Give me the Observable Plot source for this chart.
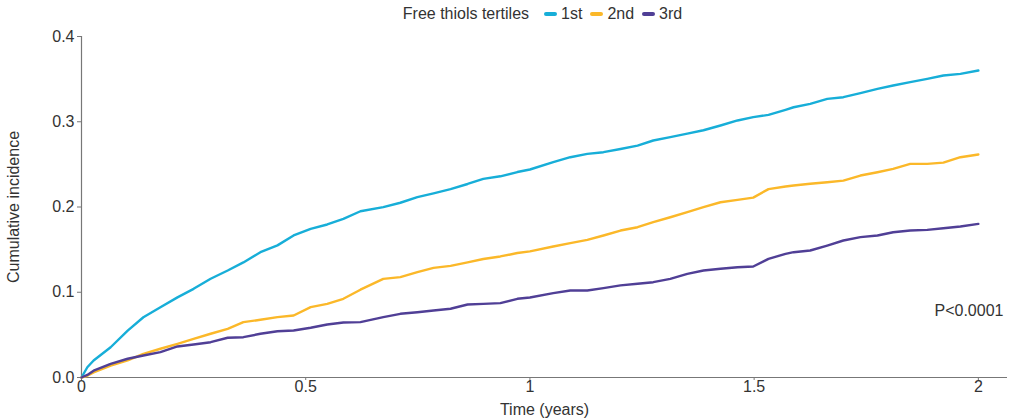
<!DOCTYPE html>
<html><head><meta charset="utf-8">
<script src="https://cdn.jsdelivr.net/npm/d3@7"></script>
<script src="https://cdn.jsdelivr.net/npm/@observablehq/plot@0.6"></script>
<style>
body{margin:0;background:#fff;font-family:"Liberation Sans",Arial,sans-serif;color:#333;}
#legend{height:28px;box-sizing:border-box;padding-left:78px;padding-right:4px;display:flex;justify-content:center;align-items:center;font-size:16px;line-height:28px;}
#legend .item{display:flex;align-items:center;margin-left:8px;}
#legend .sw{width:13px;height:4px;border-radius:3px;margin-right:4px;}
#legend .title{margin-right:7px;}
</style></head>
<body><div id="legend"></div><div id="chart"></div>
<script>
const series = ["1st", "2nd", "3rd"];
const colors = ["#17aed8", "#fbb829", "#503f96"];
const legendTitle = "Free thiols tertiles";
const time = [0, 0.013, 0.027, 0.065, 0.103, 0.138, 0.176, 0.214, 0.25, 0.288, 0.326, 0.361, 0.399, 0.437, 0.473, 0.511, 0.548, 0.584, 0.622, 0.673, 0.711, 0.749, 0.785, 0.823, 0.861, 0.896, 0.934, 0.972, 1.0, 1.052, 1.09, 1.128, 1.164, 1.202, 1.24, 1.275, 1.313, 1.351, 1.387, 1.425, 1.463, 1.498, 1.532, 1.57, 1.588, 1.625, 1.663, 1.699, 1.737, 1.775, 1.81, 1.848, 1.886, 1.922, 1.96, 2.0];
const first = [0, 0.012, 0.02, 0.0355, 0.055, 0.0707, 0.0825, 0.094, 0.104, 0.1158, 0.1255, 0.135, 0.147, 0.155, 0.1666, 0.1744, 0.1795, 0.186, 0.195, 0.1998, 0.205, 0.2115, 0.216, 0.221, 0.227, 0.233, 0.236, 0.241, 0.244, 0.2526, 0.2584, 0.2623, 0.2643, 0.268, 0.272, 0.278, 0.282, 0.286, 0.29, 0.2956, 0.3015, 0.3054, 0.308, 0.314, 0.317, 0.321, 0.3268, 0.3288, 0.3335, 0.3386, 0.3425, 0.3464, 0.3503, 0.3543, 0.3562, 0.3601];
const second = [0, 0.002, 0.006, 0.014, 0.02, 0.0278, 0.0337, 0.0395, 0.0454, 0.0513, 0.0571, 0.0649, 0.0677, 0.0708, 0.0727, 0.0825, 0.0864, 0.0923, 0.103, 0.1157, 0.1177, 0.1235, 0.1286, 0.131, 0.135, 0.139, 0.142, 0.146, 0.148, 0.1537, 0.1576, 0.1615, 0.1666, 0.1724, 0.1763, 0.1822, 0.188, 0.1939, 0.1998, 0.2056, 0.2084, 0.211, 0.221, 0.224, 0.2252, 0.2272, 0.2291, 0.231, 0.2369, 0.2408, 0.2447, 0.2506, 0.2506, 0.252, 0.2584, 0.2616];
const third = [0, 0.003, 0.008, 0.016, 0.022, 0.0258, 0.0297, 0.0364, 0.0387, 0.0414, 0.0466, 0.0473, 0.0513, 0.0543, 0.0551, 0.0583, 0.0622, 0.0645, 0.0649, 0.0708, 0.0747, 0.0766, 0.0786, 0.0806, 0.0856, 0.0864, 0.0872, 0.0923, 0.0938, 0.0989, 0.102, 0.102, 0.1048, 0.108, 0.1099, 0.1118, 0.1157, 0.1216, 0.1255, 0.1275, 0.1294, 0.1302, 0.1392, 0.145, 0.147, 0.149, 0.1548, 0.1607, 0.1646, 0.1666, 0.1704, 0.1724, 0.1732, 0.1751, 0.1771, 0.1802];
const xTicks = [0, 0.5, 1, 1.5, 2];
const yTicks = [0, 0.1, 0.2, 0.3, 0.4];
const xLabel = "Time (years)";
const yLabel = "Cumulative incidence";
const pValue = [{text: "P<0.0001", t: 2.056, v: 0.078}];

const values = [first, second, third];
const data = [];
series.forEach((s, i) => time.forEach((t, j) => data.push({series: s, t, v: values[i][j]})));

// legend
const lg = document.getElementById("legend");
const ttl = document.createElement("span"); ttl.className = "title"; ttl.textContent = legendTitle; lg.appendChild(ttl);
series.forEach((s, i) => {
  const it = document.createElement("span"); it.className = "item";
  const sw = document.createElement("span"); sw.className = "sw"; sw.style.background = colors[i];
  const tx = document.createElement("span"); tx.textContent = s;
  it.appendChild(sw); it.appendChild(tx); lg.appendChild(it);
});

const axisColor = "#777";
const chart = Plot.plot({
  width: 1011, height: 392,
  marginLeft: 81, marginRight: 4, marginTop: 8, marginBottom: 43,
  style: {fontFamily: "'Liberation Sans', Arial, sans-serif", fontSize: "16px", color: "#333", background: "#fff"},
  x: {domain: [0, 2.065]},
  y: {domain: [0, 0.4]},
  color: {domain: series, range: colors},
  marks: [
    Plot.axisY({ticks: yTicks, tickFormat: d3.format(".1f"), tickSize: 4, tickPadding: 3, stroke: axisColor,
      label: yLabel, labelAnchor: "center", labelArrow: "none", labelOffset: 74}),
    Plot.axisX({ticks: xTicks, tickFormat: d => String(d), tickSize: 3, tickPadding: 0, stroke: axisColor,
      label: xLabel, labelAnchor: "center", labelArrow: "none", labelOffset: 37}),
    Plot.ruleX([0], {y1: 0, y2: 0.4, stroke: axisColor, strokeWidth: 1.2}),
    Plot.ruleY([0], {stroke: axisColor, strokeWidth: 1.2}),
    Plot.line(data, {x: "t", y: "v", z: "series", stroke: "series", strokeWidth: 2.4, curve: "linear"}),
    Plot.text(pValue, {x: "t", y: "v", text: "text", textAnchor: "end", fill: "#333"})
  ]
});
document.getElementById("chart").appendChild(chart);
</script></body></html>
